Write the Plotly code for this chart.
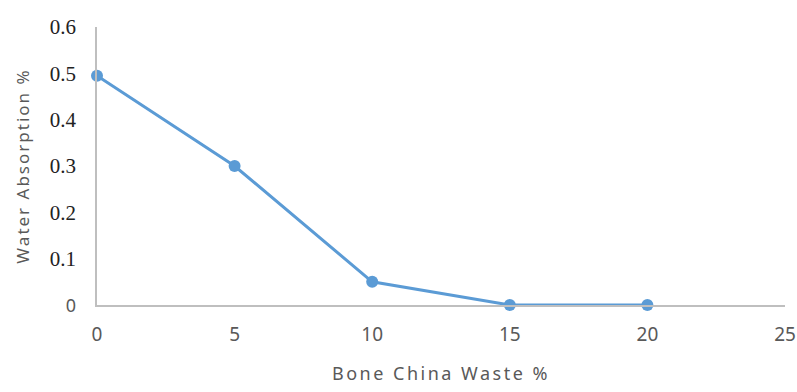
import plotly.graph_objects as go

# Bone china waste content (%) and measured water absorption (%)
waste_pct = [0, 5, 10, 15, 20]
water_absorption = [0.495, 0.3, 0.05, 0.0, 0.0]

x_ticks = [0, 5, 10, 15, 20, 25]
y_ticks = [0, 0.1, 0.2, 0.3, 0.4, 0.5, 0.6]

GRAY = "#595959"
zero_style = f"font-family:'Noto Sans',sans-serif;font-size:18px;fill:{GRAY}"
y_ticktext = [f"<span style=\"{zero_style}\">0</span>"] + [f"{v:g}" for v in y_ticks[1:]]

fig = go.Figure(
    go.Scatter(
        x=waste_pct,
        y=water_absorption,
        mode="lines+markers",
        line=dict(color="#5B9BD5", width=3),
        marker=dict(color="#5B9BD5", size=12),
        cliponaxis=False,
    )
)

fig.update_layout(
    width=797,
    height=392,
    margin=dict(l=97, r=12, t=27, b=87),
    paper_bgcolor="white",
    plot_bgcolor="white",
    showlegend=False,
    font=dict(family="Noto Sans", size=17, color=GRAY),
)

fig.update_xaxes(
    range=[0, 25],
    tickvals=x_ticks,
    ticktext=[str(v) for v in x_ticks],
    showgrid=False,
    zeroline=False,
    showline=True,
    linecolor="#BFBFBF",
    linewidth=1.5,
    ticks="",
    automargin=False,
    ticklabelstandoff=11,
    tickfont=dict(family="Noto Sans", size=19, color=GRAY),
    title=dict(
        text="<span style=\"letter-spacing:2.5px\">Bone China Waste %</span>",
        font=dict(family="Noto Sans", size=18, color=GRAY),
        standoff=22,
    ),
)

fig.update_yaxes(
    range=[0, 0.6],
    tickvals=y_ticks,
    ticktext=y_ticktext,
    showgrid=False,
    zeroline=False,
    showline=True,
    linecolor="#BFBFBF",
    linewidth=1.5,
    ticks="",
    automargin=False,
    ticklabelstandoff=15,
    tickfont=dict(family="Liberation Serif", size=21, color="#222222"),
    title=dict(
        text="<span style=\"letter-spacing:2px\">Water Absorption %</span>",
        font=dict(family="Noto Sans", size=17, color=GRAY),
        standoff=16,
    ),
)

fig.write_html("out.html")
